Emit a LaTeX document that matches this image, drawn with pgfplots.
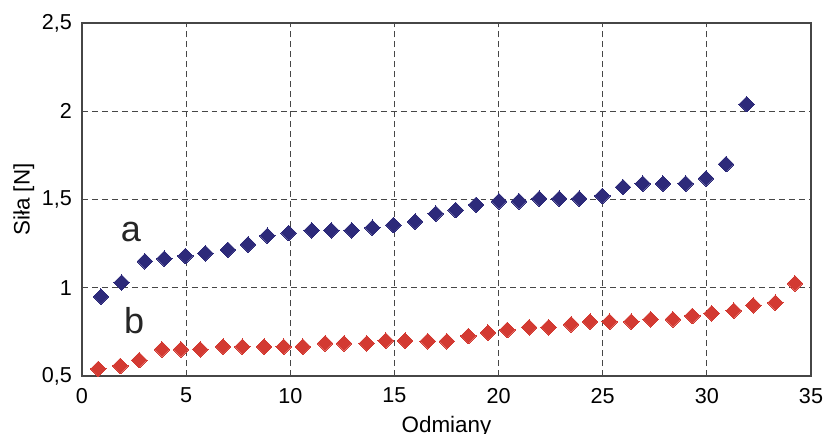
\documentclass[border=0pt]{standalone}
\usepackage{pgfplots}
\pgfplotsset{compat=1.18}
\usepackage{fontspec}
\setmainfont{Liberation Sans}
\definecolor{serA}{RGB}{45,42,122}
\definecolor{serB}{RGB}{211,58,50}
\definecolor{gridc}{RGB}{70,70,70}
\begin{document}
\begin{tikzpicture}
\useasboundingbox (-41bp,-29bp) rectangle (371bp,188bp);
\begin{axis}[
    scale only axis,
    width=364.5bp, height=176.5bp,
    xmin=0, xmax=35, ymin=0.5, ymax=2.5,
    xtick={0,5,...,35},
    ytick={0.5,1,1.5,2,2.5},
    yticklabels={{0,5},{1},{1,5},{2},{2,5}},
    grid=major,
    major grid style={densely dashed, gridc, line width=0.4pt},
    axis line style={gridc, line width=0.6pt},
    major tick length=0pt,
    tick label style={font=\fontsize{10.8bp}{12bp}\selectfont},
    /pgf/number format/assume math mode=true,
    xticklabel style={yshift=-2.5bp},
    yticklabel style={xshift=-1.5bp},
    label style={font=\fontsize{11.2bp}{13bp}\selectfont},
    xlabel={Odmiany},
    ylabel={Siła [N]},
    xlabel style={yshift=0.5bp},
    ylabel style={yshift=-3bp},
]
% a
\addplot[serA, only marks, mark=square*, mark size=2.75bp, mark options={rotate=45, fill=serA, draw=serA, line width=0pt}] coordinates {
(0.91,0.95) (1.90,1.03) (3.02,1.15) (3.95,1.165) (4.96,1.18) (5.92,1.195)
(7.00,1.215) (7.97,1.245) (8.90,1.295) (9.92,1.31) (11.03,1.325) (11.97,1.325)
(12.95,1.325) (13.94,1.34) (14.95,1.355) (15.99,1.375) (16.98,1.42) (17.94,1.44)
(18.92,1.47) (20.02,1.49) (20.98,1.49) (21.95,1.505) (22.91,1.505) (23.87,1.505)
(24.98,1.52) (25.97,1.57) (26.92,1.59) (27.89,1.59) (28.98,1.59) (29.96,1.62)
(30.92,1.70) (31.91,2.04)
};
% b
\addplot[serB, only marks, mark=square*, mark size=2.75bp, mark options={rotate=45, fill=serB, draw=serB, line width=0pt}] coordinates {
(0.78,0.54) (1.84,0.557) (2.75,0.59) (3.84,0.651) (4.75,0.651) (5.68,0.651)
(6.77,0.666) (7.70,0.666) (8.74,0.666) (9.68,0.666) (10.60,0.666) (11.67,0.685)
(12.58,0.685) (13.67,0.685) (14.58,0.70) (15.51,0.70) (16.60,0.697) (17.52,0.697)
(18.55,0.727) (19.49,0.746) (20.42,0.761) (21.47,0.776) (22.40,0.776) (23.48,0.793)
(24.39,0.808) (25.33,0.808) (26.37,0.808) (27.30,0.821) (28.37,0.821) (29.30,0.84)
(30.23,0.855) (31.29,0.87) (32.23,0.90) (33.29,0.915) (34.23,1.025)
};
\node[font=\fontsize{18bp}{20bp}\selectfont, text=black!85] at (axis cs:2.35,1.316) {a};
\node[font=\fontsize{18bp}{20bp}\selectfont, text=black!85] at (axis cs:2.5,0.812) {b};
\end{axis}
\end{tikzpicture}
\end{document}
